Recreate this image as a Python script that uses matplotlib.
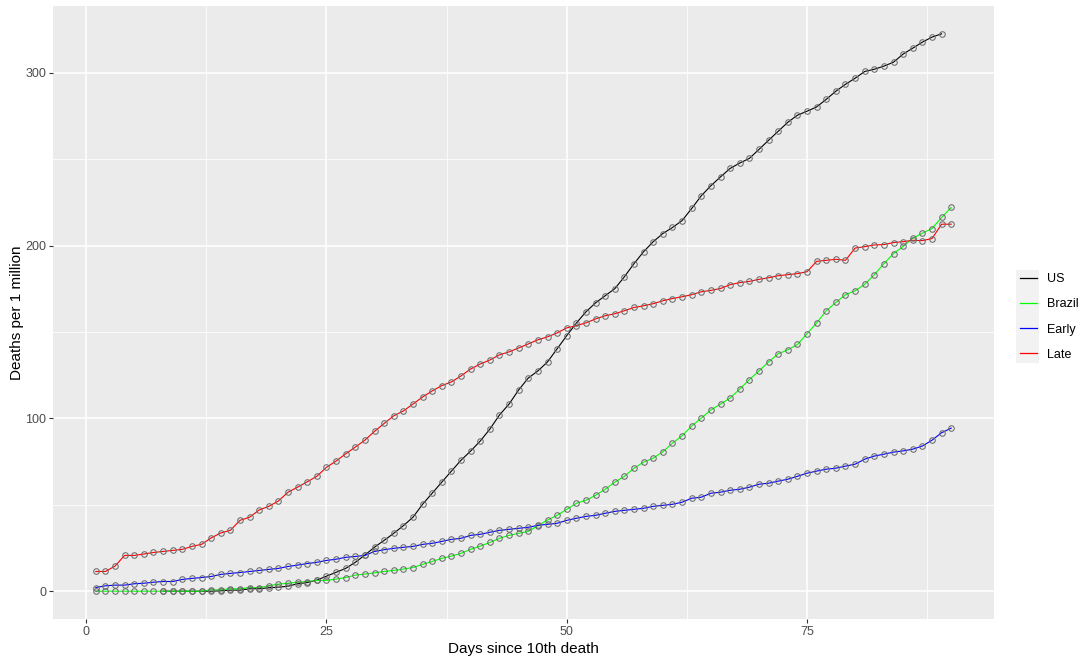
import numpy as np
import matplotlib
matplotlib.use("Agg")
import matplotlib.pyplot as plt
from matplotlib.lines import Line2D
from matplotlib.patches import Rectangle

plt.rcParams['font.family'] = ['Liberation Sans', 'DejaVu Sans']

# days since 10th death
days_all = list(range(1, 91))
days_us = list(range(8, 90))

us = [0, 0, 0, 0, 0, 0, 0.2, 0.6, 0.6, 1.4, 1.4, 2.0, 2.3, 2.9, 4.3, 5.0, 6.4, 8.7, 10.9,
      13.2, 16.7, 20.9, 25.5, 29.4, 33.5, 37.9, 42.8, 50.3, 56.7, 63.1, 69.5, 75.8,
      81.1, 86.9, 93.8, 102.0, 108.3, 116.5, 123.4, 127.5, 132.7, 140.3, 147.9, 155.2,
      161.7, 166.9, 171.0, 175.1, 182.0, 189.6, 196.5, 202.3, 207.0, 210.5, 214.5,
      221.5, 228.9, 234.7, 239.8, 244.7, 247.8, 250.5, 255.7, 261.0, 266.2, 271.4,
      275.5, 277.8, 280.3, 284.7, 289.4, 293.4, 296.9, 300.8, 302.1, 303.9, 306.2,
      310.9, 314.3, 317.8, 320.7, 322.6]

brazil = [0, 0, 0, 0, 0, 0, 0, 0, 0, 0, 0, 0, 0.8, 0.8, 1.4, 1.4, 2.1, 2.1, 3.1, 4.1,
          4.6, 5.2, 5.6, 6.2, 6.2, 7.0, 7.9, 9.3, 9.9, 10.6, 11.4, 12.0, 12.8, 13.7,
          15.5, 17.2, 19.0, 20.3, 21.9, 24.2, 26.1, 28.2, 30.6, 32.3, 33.5, 34.6, 37.9,
          41.2, 43.9, 47.4, 50.9, 52.6, 55.5, 59.0, 63.1, 66.5, 71.2, 74.7, 77.0, 80.7,
          85.7, 89.9, 95.6, 100.2, 104.9, 108.3, 111.8, 117.0, 122.5, 127.5, 132.7,
          137.4, 139.7, 142.8, 149.0, 155.3, 162.3, 167.1, 171.6, 173.9, 177.6, 183.2,
          189.6, 195.4, 199.6, 204.3, 207.2, 209.9, 216.3, 222.1]

early = [2.1, 3.1, 3.5, 3.5, 4.3, 4.6, 5.2, 5.6, 5.6, 6.8, 7.4, 7.9, 8.5, 9.7, 10.3,
         10.8, 11.4, 12.0, 12.6, 13.2, 14.3, 15.1, 16.0, 16.7, 17.8, 18.5, 19.6, 20.1,
         20.7, 23.0, 24.0, 24.8, 25.4, 25.9, 27.1, 27.7, 28.8, 30.0, 30.6, 32.3, 32.9,
         34.1, 35.2, 35.8, 36.4, 37.0, 38.1, 38.7, 39.3, 41.0, 42.2, 43.3, 43.9, 45.1,
         46.2, 46.8, 47.4, 48.0, 49.1, 49.7, 50.3, 51.5, 53.8, 54.4, 56.7, 57.3, 58.4,
         59.0, 60.2, 61.9, 62.5, 63.7, 64.8, 66.5, 68.3, 69.5, 70.6, 71.2, 72.4, 73.5,
         76.4, 78.2, 79.3, 80.5, 81.2, 82.2, 84.0, 87.4, 91.7, 94.4]

late = [11.4, 11.4, 14.5, 20.7, 20.7, 21.5, 22.4, 23.0, 23.6, 24.2, 25.9, 27.1, 30.8,
        33.7, 35.2, 41.0, 42.8, 47.0, 49.1, 52.2, 57.3, 60.2, 63.3, 66.5, 71.7, 75.3,
        79.5, 83.4, 87.4, 92.5, 97.1, 101.5, 104.3, 108.3, 112.4, 115.9, 119.0, 121.1,
        124.6, 128.6, 131.5, 133.8, 136.8, 138.5, 140.8, 143.1, 145.5, 147.2, 149.5,
        152.4, 153.7, 155.3, 157.6, 159.4, 160.6, 162.3, 164.2, 165.2, 166.4, 168.1,
        169.4, 170.4, 171.6, 173.3, 174.1, 175.2, 177.4, 178.6, 179.3, 180.5, 181.4,
        182.6, 183.2, 183.8, 184.9, 190.9, 191.5, 192.1, 191.5, 198.6, 199.4, 200.4,
        200.6, 201.8, 202.3, 203.1, 202.9, 204.1, 212.4, 212.4]

series = [
    ('US', days_us, us, 'black'),
    ('Brazil', days_all, brazil, '#00FF00'),
    ('Early', days_all, early, '#0000FF'),
    ('Late', days_all, late, '#FF0000'),
]

fig = plt.figure(figsize=(10.91, 6.64), dpi=100)
ax = fig.add_axes([53 / 1091, 45 / 664, (994 - 53) / 1091, (619 - 6) / 664])
ax.set_facecolor('#EBEBEB')

# lines first, then all points on top (like geom_line + geom_point)
for name, x, y, col in series:
    ax.plot(x, y, color=col, lw=0.8, zorder=2)
for name, x, y, col in series:
    ax.plot(x, y, ls='none', marker='o', ms=4.0, mfc='none', mec='#6b6b6b',
            mew=0.75, zorder=3)

ax.set_xlim(-3.45, 94.45)
ax.set_ylim(-16.1, 338.7)
ax.set_xticks([0, 25, 50, 75])
ax.set_xticks([12.5, 37.5, 62.5, 87.5], minor=True)
ax.set_yticks([0, 100, 200, 300])
ax.set_yticks([50, 150, 250], minor=True)
ax.grid(which='major', color='white', lw=1.1, zorder=0)
ax.grid(which='minor', color='white', lw=0.55, zorder=0)
ax.set_axisbelow(True)
for s in ax.spines.values():
    s.set_visible(False)
ax.tick_params(which='major', length=3, width=0.8, color='#333333',
               labelcolor='#4D4D4D', labelsize=9, pad=2)
ax.tick_params(which='minor', length=0)

ax.set_xlabel('Days since 10th death', fontsize=11, labelpad=3)
ax.set_ylabel('Deaths per 1 million', fontsize=11, labelpad=0.5)

handles = [Line2D([], [], color=col, lw=0.9) for _, _, _, col in series]
labels = [name for name, _, _, _ in series]
leg = fig.legend(handles, labels, loc='center left',
                 bbox_to_anchor=(1010 / 1091, 1 - 317 / 664), frameon=False,
                 fontsize=9, handlelength=1.36, handletextpad=0.8,
                 labelspacing=1.05, borderpad=0.3)
fig.add_artist(Rectangle((1016 / 1091, 1 - 363 / 664), 23 / 1091, 93 / 664,
                         transform=fig.transFigure, facecolor='#F2F2F2',
                         edgecolor='none', zorder=0))

fig.savefig('out.png', dpi=100)
